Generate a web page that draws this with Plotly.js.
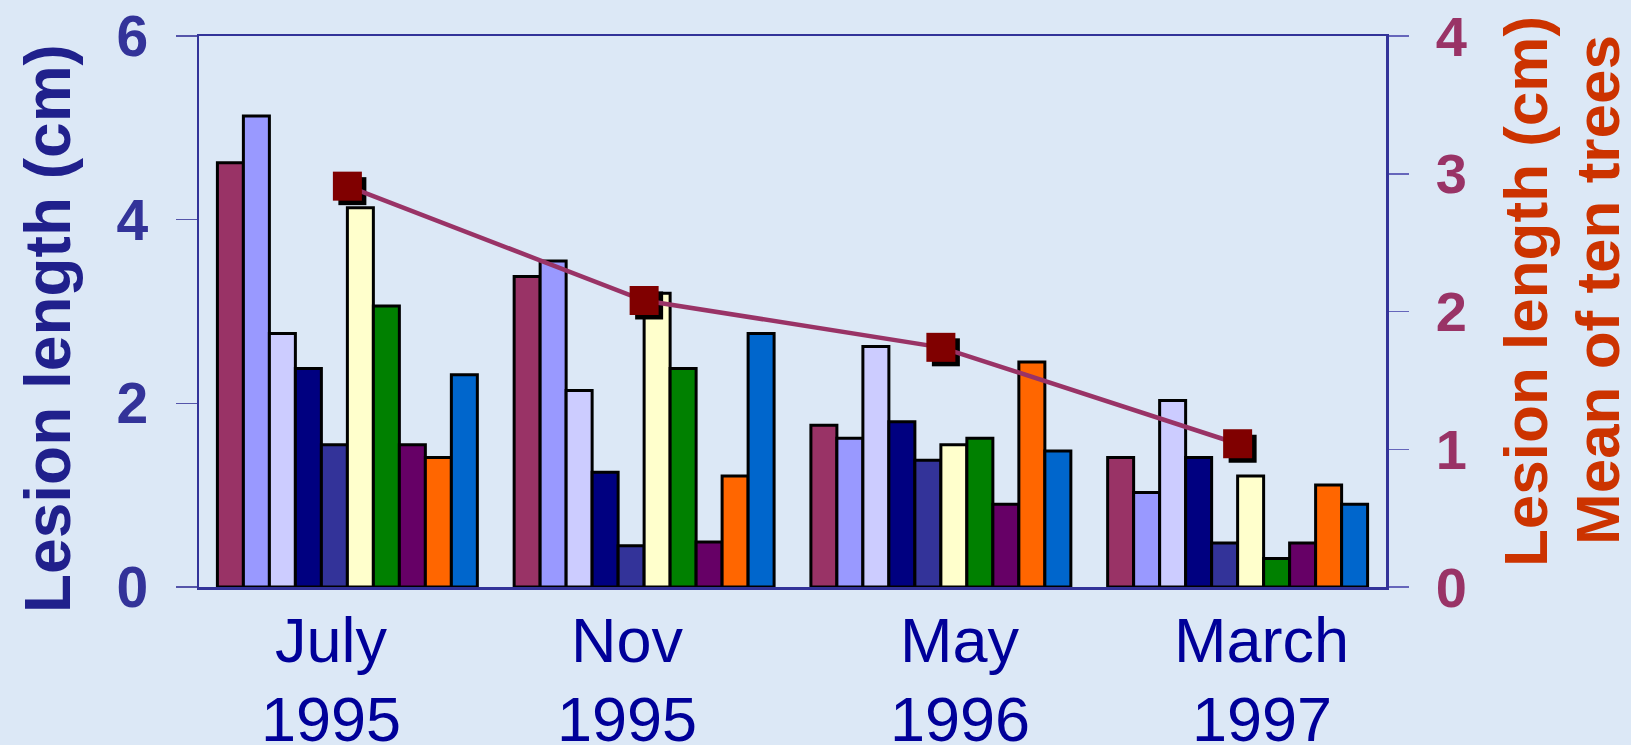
<!DOCTYPE html>
<html>
<head>
<meta charset="utf-8">
<script src="https://cdn.plot.ly/plotly-3.0.1.min.js"></script>
<style>
  html, body { margin: 0; padding: 0; background: #dce8f6; }
  #chart { width: 1631px; height: 745px; }
</style>
</head>
<body>
<div id="chart"></div>
<script>
// ---- data ----
const months = ['July', 'Nov', 'May', 'March'];
const years = ['1995', '1995', '1996', '1997'];
const categories = months.map((m, i) => m + ' ' + years[i]);
const tree1  = [4.62, 3.38, 1.76, 1.41];
const tree2  = [5.13, 3.55, 1.62, 1.03];
const tree3  = [2.76, 2.14, 2.62, 2.03];
const tree4  = [2.38, 1.25, 1.80, 1.41];
const tree5  = [1.55, 0.45, 1.38, 0.48];
const tree6  = [4.13, 3.20, 1.55, 1.21];
const tree7  = [3.06, 2.38, 1.62, 0.31];
const tree8  = [1.55, 0.49, 0.90, 0.48];
const tree9  = [1.41, 1.21, 2.45, 1.11];
const tree10 = [2.31, 2.76, 1.48, 0.90];
const meanOfTenTrees = [2.91, 2.08, 1.74, 1.04];
const leftTicks = [0, 2, 4, 6];
const rightTicks = [0, 1, 2, 3, 4];

// ---- styles ----
const trees = [tree1, tree2, tree3, tree4, tree5, tree6, tree7, tree8, tree9, tree10];
const treeColors = ['#993366', '#9999ff', '#ccccff', '#000080', '#333399',
                    '#ffffcc', '#008000', '#660066', '#ff6600', '#0066cc'];
const labelShift = [-16, -17, 19, 24];   // the slide's date labels are placed slightly off-centre
const FONT = '"Liberation Sans", Arial, sans-serif';

const traces = trees.map((vals, i) => ({
  type: 'bar',
  name: 'Tree ' + (i + 1),
  x: categories,
  y: vals,
  xaxis: 'x', yaxis: 'y',
  marker: { color: treeColors[i], line: { color: '#000000', width: 3 } },
  hoverinfo: 'skip'
}));

// shadow of the square markers (drawn on slightly shifted overlay axes)
traces.push({
  type: 'scatter', mode: 'markers',
  x: categories, y: meanOfTenTrees,
  xaxis: 'x2', yaxis: 'y3',
  marker: { symbol: 'square', size: 28, color: '#000000', line: { width: 0 } },
  hoverinfo: 'skip'
});
// mean line
traces.push({
  type: 'scatter', mode: 'lines+markers',
  x: categories, y: meanOfTenTrees,
  xaxis: 'x3', yaxis: 'y2',
  line: { color: '#993366', width: 4.5 },
  marker: { symbol: 'square', size: 29, color: '#800000', line: { width: 0 } },
  hoverinfo: 'skip'
});

const plotW = 1631 - 199 - 245;
const plotH = 745 - 36 - 158;
const dx = 5 / (plotW / 4);
const dy = 5 / (plotH / 4);

const dateFont = { family: FONT, size: 63, color: '#000099' };
const dateAnnotations = [];
categories.forEach((c, i) => {
  dateAnnotations.push({
    text: months[i], x: c, xref: 'x', yref: 'paper', y: (587 - 640) / plotH,
    xanchor: 'center', yanchor: 'middle', xshift: labelShift[i],
    showarrow: false, font: dateFont
  });
  dateAnnotations.push({
    text: years[i], x: c, xref: 'x', yref: 'paper', y: (587 - 719) / plotH,
    xanchor: 'center', yanchor: 'middle', xshift: labelShift[i],
    showarrow: false, font: dateFont
  });
});

const layout = {
  width: 1631, height: 745,
  margin: { l: 199, r: 245, t: 36, b: 158, pad: 0 },
  paper_bgcolor: '#dce8f6',
  plot_bgcolor: 'rgba(0,0,0,0)',
  showlegend: false,
  barmode: 'group',
  bargap: 0.124,
  bargroupgap: 0,
  font: { family: FONT },
  xaxis: {
    type: 'category', categoryarray: categories, range: [-0.5, 3.5],
    showline: true, linecolor: '#333399', linewidth: 2.5, mirror: true,
    ticks: '', showgrid: false, zeroline: false, showticklabels: false
  },
  xaxis2: {
    type: 'category', categoryarray: categories, overlaying: 'x',
    range: [-0.5 - dx, 3.5 - dx], visible: false
  },
  xaxis3: {
    type: 'category', categoryarray: categories, overlaying: 'x',
    range: [-0.5, 3.5], visible: false
  },
  yaxis: {
    range: [0, 6], tickvals: leftTicks, ticktext: leftTicks.map(String),
    showline: true, linecolor: '#333399', linewidth: 2.5,
    ticks: 'outside', ticklen: 21, tickwidth: 1.5, tickcolor: '#5555aa',
    showgrid: false, zeroline: false,
    tickfont: { family: FONT, size: 57, color: '#333399', weight: 'bold' },
    ticklabelstandoff: 16
  },
  yaxis2: {
    overlaying: 'y', side: 'right', anchor: 'x', range: [0, 4],
    tickvals: rightTicks, ticktext: rightTicks.map(String),
    showline: true, linecolor: '#333399', linewidth: 2.5,
    ticks: 'outside', ticklen: 20, tickwidth: 1.5, tickcolor: '#6666bb',
    showgrid: false, zeroline: false,
    tickfont: { family: FONT, size: 56, color: '#993366', weight: 'bold' },
    ticklabelstandoff: 16
  },
  yaxis3: {
    overlaying: 'y', range: [dy, 4 + dy], visible: false
  },
  yaxis4: {
    overlaying: 'y', side: 'right', anchor: 'x', range: [0, 4],
    tickvals: rightTicks, showticklabels: false,
    ticks: 'inside', ticklen: 20, tickwidth: 1.5, tickcolor: '#6666bb',
    showline: false, showgrid: false, zeroline: false
  },
  annotations: [
    {
      text: 'Lesion length (cm)', textangle: -90, showarrow: false,
      xref: 'paper', yref: 'paper', x: (48 - 199) / plotW, y: (587 - 329) / plotH,
      xanchor: 'center', yanchor: 'middle',
      font: { family: FONT, size: 64, color: '#20208c', weight: 'bold' }
    },
    {
      text: 'Lesion length (cm)', textangle: -90, showarrow: false,
      xref: 'paper', yref: 'paper', x: (1525 - 199) / plotW, y: (587 - 292) / plotH,
      xanchor: 'center', yanchor: 'middle',
      font: { family: FONT, size: 62, color: '#cc3300', weight: 'bold' }
    },
    {
      text: 'Mean of ten trees', textangle: -90, showarrow: false,
      xref: 'paper', yref: 'paper', x: (1597 - 199) / plotW, y: (587 - 290) / plotH,
      xanchor: 'center', yanchor: 'middle',
      font: { family: FONT, size: 62, color: '#cc3300', weight: 'bold' }
    }
  ].concat(dateAnnotations)
};

Plotly.newPlot('chart', traces, layout, { staticPlot: true, displayModeBar: false });
</script>
</body>
</html>
